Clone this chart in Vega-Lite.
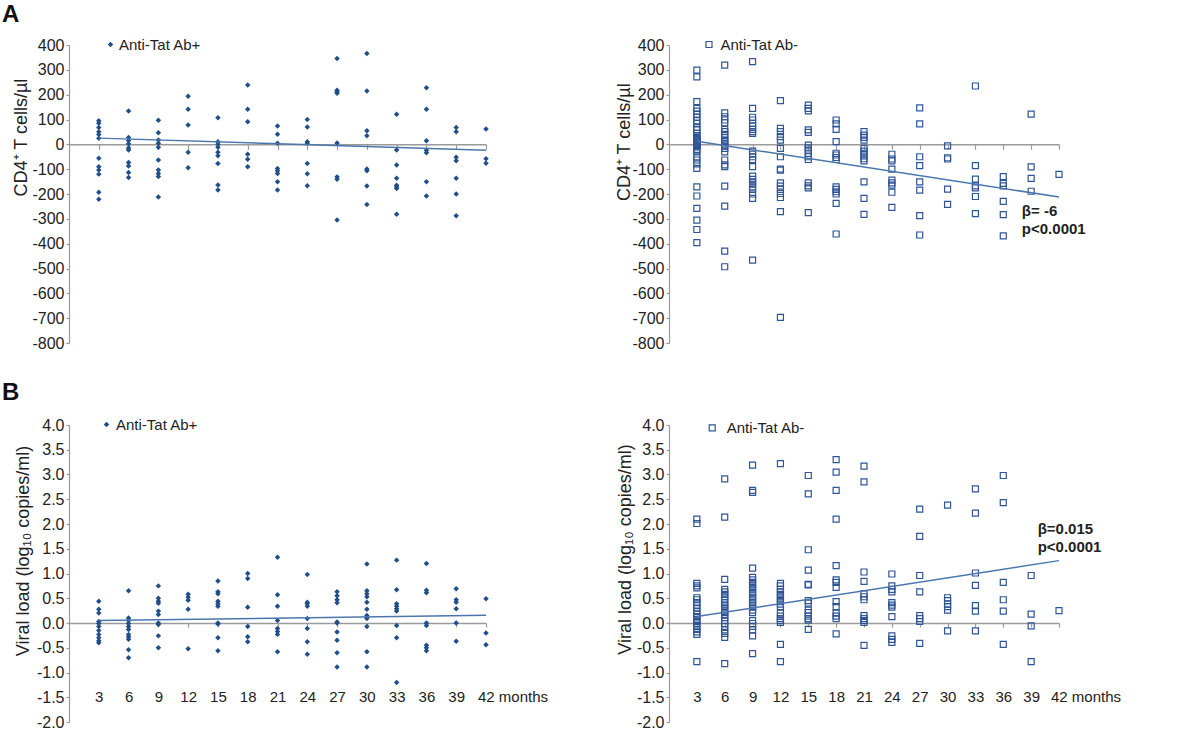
{
  "$schema": "https://vega.github.io/schema/vega-lite/v6.json",
  "padding": {"left": 2, "top": 2, "right": 5, "bottom": 5},
  "autosize": {"type": "pad"},
  "datasets": {
    "cd4pos": [
      {"m":3,"v":95},{"m":3,"v":85},{"m":3,"v":68},{"m":3,"v":51},{"m":3,"v":40},{"m":3,"v":24},{"m":3,"v":-56},{"m":3,"v":-90},{"m":3,"v":-103},{"m":3,"v":-120},{"m":3,"v":-193},{"m":3,"v":-221},
      {"m":6,"v":134},{"m":6,"v":28},{"m":6,"v":15},{"m":6,"v":2},{"m":6,"v":-15},{"m":6,"v":-23},{"m":6,"v":-73},{"m":6,"v":-87},{"m":6,"v":-113},{"m":6,"v":-134},
      {"m":9,"v":97},{"m":9,"v":47},{"m":9,"v":17},{"m":9,"v":4},{"m":9,"v":-12},{"m":9,"v":-63},{"m":9,"v":-103},{"m":9,"v":-117},{"m":9,"v":-130},{"m":9,"v":-212},
      {"m":12,"v":194},{"m":12,"v":141},{"m":12,"v":78},{"m":12,"v":-32},{"m":12,"v":-94},
      {"m":15,"v":107},{"m":15,"v":10},{"m":15,"v":0},{"m":15,"v":-12},{"m":15,"v":-32},{"m":15,"v":-46},{"m":15,"v":-77},{"m":15,"v":-164},{"m":15,"v":-184},
      {"m":18,"v":239},{"m":18,"v":141},{"m":18,"v":91},{"m":18,"v":-40},{"m":18,"v":-60},{"m":18,"v":-90},
      {"m":21,"v":74},{"m":21,"v":41},{"m":21,"v":4},{"m":21,"v":-97},{"m":21,"v":-106},{"m":21,"v":-117},{"m":21,"v":-151},{"m":21,"v":-184},
      {"m":24,"v":100},{"m":24,"v":70},{"m":24,"v":10},{"m":24,"v":4},{"m":24,"v":-77},{"m":24,"v":-118},{"m":24,"v":-167},
      {"m":27,"v":346},{"m":27,"v":218},{"m":27,"v":212},{"m":27,"v":206},{"m":27,"v":5},{"m":27,"v":-131},{"m":27,"v":-141},{"m":27,"v":-305},
      {"m":30,"v":366},{"m":30,"v":215},{"m":30,"v":55},{"m":30,"v":35},{"m":30,"v":-99},{"m":30,"v":-106},{"m":30,"v":-168},{"m":30,"v":-242},
      {"m":33,"v":121},{"m":33,"v":-23},{"m":33,"v":-83},{"m":33,"v":-137},{"m":33,"v":-165},{"m":33,"v":-172},{"m":33,"v":-178},{"m":33,"v":-282},
      {"m":36,"v":228},{"m":36,"v":141},{"m":36,"v":14},{"m":36,"v":-24},{"m":36,"v":-34},{"m":36,"v":-151},{"m":36,"v":-208},
      {"m":39,"v":68},{"m":39,"v":51},{"m":39,"v":-52},{"m":39,"v":-66},{"m":39,"v":-137},{"m":39,"v":-200},{"m":39,"v":-288},
      {"m":42,"v":62},{"m":42,"v":-58},{"m":42,"v":-76}
    ],
    "cd4neg": [
      {"m":3,"v":299},{"m":3,"v":272},{"m":3,"v":172},{"m":3,"v":145},{"m":3,"v":134},{"m":3,"v":122},{"m":3,"v":109},{"m":3,"v":95},{"m":3,"v":84},{"m":3,"v":68},{"m":3,"v":58},{"m":3,"v":44},{"m":3,"v":35},{"m":3,"v":28},{"m":3,"v":24},{"m":3,"v":17},{"m":3,"v":14},{"m":3,"v":11},{"m":3,"v":6},{"m":3,"v":4},{"m":3,"v":0},{"m":3,"v":-3},{"m":3,"v":-6},{"m":3,"v":-10},{"m":3,"v":-20},{"m":3,"v":-30},{"m":3,"v":-50},{"m":3,"v":-63},{"m":3,"v":-79},{"m":3,"v":-97},{"m":3,"v":-171},{"m":3,"v":-208},{"m":3,"v":-258},{"m":3,"v":-305},{"m":3,"v":-343},{"m":3,"v":-396},
      {"m":6,"v":319},{"m":6,"v":127},{"m":6,"v":111},{"m":6,"v":98},{"m":6,"v":87},{"m":6,"v":60},{"m":6,"v":51},{"m":6,"v":40},{"m":6,"v":28},{"m":6,"v":17},{"m":6,"v":11},{"m":6,"v":1},{"m":6,"v":-7},{"m":6,"v":-16},{"m":6,"v":-30},{"m":6,"v":-63},{"m":6,"v":-83},{"m":6,"v":-90},{"m":6,"v":-168},{"m":6,"v":-249},{"m":6,"v":-430},{"m":6,"v":-493},
      {"m":9,"v":333},{"m":9,"v":145},{"m":9,"v":109},{"m":9,"v":98},{"m":9,"v":84},{"m":9,"v":74},{"m":9,"v":60},{"m":9,"v":51},{"m":9,"v":44},{"m":9,"v":-27},{"m":9,"v":-40},{"m":9,"v":-50},{"m":9,"v":-61},{"m":9,"v":-90},{"m":9,"v":-128},{"m":9,"v":-141},{"m":9,"v":-151},{"m":9,"v":-160},{"m":9,"v":-171},{"m":9,"v":-181},{"m":9,"v":-200},{"m":9,"v":-218},{"m":9,"v":-466},
      {"m":12,"v":176},{"m":12,"v":64},{"m":12,"v":51},{"m":12,"v":31},{"m":12,"v":17},{"m":12,"v":-16},{"m":12,"v":-50},{"m":12,"v":-100},{"m":12,"v":-104},{"m":12,"v":-155},{"m":12,"v":-168},{"m":12,"v":-181},{"m":12,"v":-198},{"m":12,"v":-214},{"m":12,"v":-271},{"m":12,"v":-697},
      {"m":15,"v":158},{"m":15,"v":145},{"m":15,"v":135},{"m":15,"v":58},{"m":15,"v":48},{"m":15,"v":-3},{"m":15,"v":-14},{"m":15,"v":-23},{"m":15,"v":-36},{"m":15,"v":-50},{"m":15,"v":-61},{"m":15,"v":-155},{"m":15,"v":-167},{"m":15,"v":-175},{"m":15,"v":-275},
      {"m":18,"v":98},{"m":18,"v":82},{"m":18,"v":60},{"m":18,"v":11},{"m":18,"v":-36},{"m":18,"v":-43},{"m":18,"v":-53},{"m":18,"v":-61},{"m":18,"v":-171},{"m":18,"v":-181},{"m":18,"v":-191},{"m":18,"v":-200},{"m":18,"v":-238},{"m":18,"v":-361},
      {"m":21,"v":51},{"m":21,"v":37},{"m":21,"v":28},{"m":21,"v":17},{"m":21,"v":-16},{"m":21,"v":-27},{"m":21,"v":-36},{"m":21,"v":-47},{"m":21,"v":-58},{"m":21,"v":-67},{"m":21,"v":-151},{"m":21,"v":-218},{"m":21,"v":-282},
      {"m":24,"v":-40},{"m":24,"v":-59},{"m":24,"v":-67},{"m":24,"v":-100},{"m":24,"v":-144},{"m":24,"v":-155},{"m":24,"v":-164},{"m":24,"v":-193},{"m":24,"v":-254},
      {"m":27,"v":147},{"m":27,"v":82},{"m":27,"v":-50},{"m":27,"v":-86},{"m":27,"v":-151},{"m":27,"v":-184},{"m":27,"v":-287},{"m":27,"v":-365},
      {"m":30,"v":-6},{"m":30,"v":-54},{"m":30,"v":-59},{"m":30,"v":-180},{"m":30,"v":-242},
      {"m":33,"v":235},{"m":33,"v":-86},{"m":33,"v":-140},{"m":33,"v":-167},{"m":33,"v":-175},{"m":33,"v":-210},{"m":33,"v":-279},
      {"m":36,"v":-130},{"m":36,"v":-157},{"m":36,"v":-167},{"m":36,"v":-230},{"m":36,"v":-283},{"m":36,"v":-369},
      {"m":39,"v":122},{"m":39,"v":-91},{"m":39,"v":-137},{"m":39,"v":-189},
      {"m":42,"v":-121}
    ],
    "vlpos": [
      {"m":3,"v":0.44},{"m":3,"v":0.28},{"m":3,"v":0.2},{"m":3,"v":0.03},{"m":3,"v":-0.01},{"m":3,"v":-0.07},{"m":3,"v":-0.15},{"m":3,"v":-0.23},{"m":3,"v":-0.3},{"m":3,"v":-0.36},{"m":3,"v":-0.4},
      {"m":6,"v":0.65},{"m":6,"v":0.1},{"m":6,"v":0.05},{"m":6,"v":-0.01},{"m":6,"v":-0.07},{"m":6,"v":-0.13},{"m":6,"v":-0.23},{"m":6,"v":-0.28},{"m":6,"v":-0.33},{"m":6,"v":-0.54},{"m":6,"v":-0.7},
      {"m":9,"v":0.75},{"m":9,"v":0.5},{"m":9,"v":0.44},{"m":9,"v":0.4},{"m":9,"v":0.24},{"m":9,"v":0.17},{"m":9,"v":0.0},{"m":9,"v":-0.03},{"m":9,"v":-0.26},{"m":9,"v":-0.5},
      {"m":12,"v":0.58},{"m":12,"v":0.52},{"m":12,"v":0.46},{"m":12,"v":0.28},{"m":12,"v":-0.52},
      {"m":15,"v":0.85},{"m":15,"v":0.63},{"m":15,"v":0.59},{"m":15,"v":0.44},{"m":15,"v":0.39},{"m":15,"v":0.34},{"m":15,"v":0.0},{"m":15,"v":-0.02},{"m":15,"v":-0.3},{"m":15,"v":-0.56},
      {"m":18,"v":1.0},{"m":18,"v":0.9},{"m":18,"v":0.32},{"m":18,"v":-0.07},{"m":18,"v":-0.28},{"m":18,"v":-0.38},
      {"m":21,"v":1.33},{"m":21,"v":0.57},{"m":21,"v":0.34},{"m":21,"v":0.05},{"m":21,"v":-0.11},{"m":21,"v":-0.17},{"m":21,"v":-0.23},{"m":21,"v":-0.58},
      {"m":24,"v":0.98},{"m":24,"v":0.42},{"m":24,"v":0.39},{"m":24,"v":0.34},{"m":24,"v":0.09},{"m":24,"v":-0.11},{"m":24,"v":-0.38},{"m":24,"v":-0.63},
      {"m":27,"v":0.63},{"m":27,"v":0.55},{"m":27,"v":0.47},{"m":27,"v":0.41},{"m":27,"v":0.02},{"m":27,"v":0.0},{"m":27,"v":-0.18},{"m":27,"v":-0.35},{"m":27,"v":-0.6},{"m":27,"v":-0.89},
      {"m":30,"v":1.19},{"m":30,"v":0.65},{"m":30,"v":0.59},{"m":30,"v":0.53},{"m":30,"v":0.42},{"m":30,"v":0.28},{"m":30,"v":0.15},{"m":30,"v":0.12},{"m":30,"v":0.09},{"m":30,"v":-0.07},{"m":30,"v":-0.58},{"m":30,"v":-0.89},
      {"m":33,"v":1.27},{"m":33,"v":0.67},{"m":33,"v":0.39},{"m":33,"v":0.34},{"m":33,"v":0.29},{"m":33,"v":0.24},{"m":33,"v":-0.05},{"m":33,"v":-0.3},{"m":33,"v":-1.2},
      {"m":36,"v":1.2},{"m":36,"v":0.66},{"m":36,"v":0.61},{"m":36,"v":0.0},{"m":36,"v":-0.05},{"m":36,"v":-0.45},{"m":36,"v":-0.5},{"m":36,"v":-0.56},
      {"m":39,"v":0.69},{"m":39,"v":0.47},{"m":39,"v":0.42},{"m":39,"v":0.29},{"m":39,"v":0.0},{"m":39,"v":-0.37},
      {"m":42,"v":0.49},{"m":42,"v":-0.2},{"m":42,"v":-0.44}
    ],
    "vlneg": [
      {"m":3,"v":2.1},{"m":3,"v":2.01},{"m":3,"v":0.8},{"m":3,"v":0.75},{"m":3,"v":0.71},{"m":3,"v":0.51},{"m":3,"v":0.47},{"m":3,"v":0.41},{"m":3,"v":0.36},{"m":3,"v":0.3},{"m":3,"v":0.23},{"m":3,"v":0.18},{"m":3,"v":0.13},{"m":3,"v":0.07},{"m":3,"v":0.03},{"m":3,"v":-0.02},{"m":3,"v":-0.07},{"m":3,"v":-0.13},{"m":3,"v":-0.18},{"m":3,"v":-0.23},{"m":3,"v":-0.78},
      {"m":6,"v":2.91},{"m":6,"v":2.14},{"m":6,"v":0.88},{"m":6,"v":0.68},{"m":6,"v":0.63},{"m":6,"v":0.58},{"m":6,"v":0.53},{"m":6,"v":0.48},{"m":6,"v":0.41},{"m":6,"v":0.36},{"m":6,"v":0.32},{"m":6,"v":0.26},{"m":6,"v":0.21},{"m":6,"v":0.16},{"m":6,"v":0.11},{"m":6,"v":0.05},{"m":6,"v":-0.01},{"m":6,"v":-0.07},{"m":6,"v":-0.14},{"m":6,"v":-0.21},{"m":6,"v":-0.29},{"m":6,"v":-0.82},
      {"m":9,"v":3.19},{"m":9,"v":2.68},{"m":9,"v":2.64},{"m":9,"v":1.11},{"m":9,"v":0.92},{"m":9,"v":0.87},{"m":9,"v":0.82},{"m":9,"v":0.77},{"m":9,"v":0.72},{"m":9,"v":0.67},{"m":9,"v":0.62},{"m":9,"v":0.57},{"m":9,"v":0.51},{"m":9,"v":0.47},{"m":9,"v":0.41},{"m":9,"v":0.36},{"m":9,"v":0.32},{"m":9,"v":0.26},{"m":9,"v":0.21},{"m":9,"v":0.05},{"m":9,"v":-0.01},{"m":9,"v":-0.07},{"m":9,"v":-0.14},{"m":9,"v":-0.26},{"m":9,"v":-0.62},
      {"m":12,"v":3.22},{"m":12,"v":0.8},{"m":12,"v":0.75},{"m":12,"v":0.68},{"m":12,"v":0.63},{"m":12,"v":0.58},{"m":12,"v":0.53},{"m":12,"v":0.48},{"m":12,"v":0.43},{"m":12,"v":0.38},{"m":12,"v":0.33},{"m":12,"v":0.2},{"m":12,"v":0.14},{"m":12,"v":0.09},{"m":12,"v":0.05},{"m":12,"v":0.01},{"m":12,"v":-0.43},{"m":12,"v":-0.78},
      {"m":15,"v":2.98},{"m":15,"v":2.61},{"m":15,"v":1.48},{"m":15,"v":1.07},{"m":15,"v":0.78},{"m":15,"v":0.77},{"m":15,"v":0.45},{"m":15,"v":0.4},{"m":15,"v":0.26},{"m":15,"v":0.21},{"m":15,"v":0.14},{"m":15,"v":0.09},{"m":15,"v":0.06},{"m":15,"v":-0.13},
      {"m":18,"v":3.3},{"m":18,"v":3.05},{"m":18,"v":2.68},{"m":18,"v":2.1},{"m":18,"v":1.16},{"m":18,"v":0.87},{"m":18,"v":0.82},{"m":18,"v":0.72},{"m":18,"v":0.43},{"m":18,"v":0.33},{"m":18,"v":0.2},{"m":18,"v":0.14},{"m":18,"v":0.09},{"m":18,"v":-0.22},
      {"m":21,"v":3.17},{"m":21,"v":2.85},{"m":21,"v":1.03},{"m":21,"v":0.84},{"m":21,"v":0.59},{"m":21,"v":0.53},{"m":21,"v":0.47},{"m":21,"v":0.15},{"m":21,"v":0.09},{"m":21,"v":0.05},{"m":21,"v":0.01},{"m":21,"v":-0.45},
      {"m":24,"v":0.99},{"m":24,"v":0.75},{"m":24,"v":0.68},{"m":24,"v":0.63},{"m":24,"v":0.41},{"m":24,"v":0.36},{"m":24,"v":0.32},{"m":24,"v":0.13},{"m":24,"v":-0.26},{"m":24,"v":-0.33},{"m":24,"v":-0.39},
      {"m":27,"v":2.3},{"m":27,"v":1.75},{"m":27,"v":0.96},{"m":27,"v":0.63},{"m":27,"v":0.15},{"m":27,"v":0.09},{"m":27,"v":0.03},{"m":27,"v":-0.41},
      {"m":30,"v":2.38},{"m":30,"v":0.51},{"m":30,"v":0.45},{"m":30,"v":0.38},{"m":30,"v":0.33},{"m":30,"v":0.26},{"m":30,"v":-0.16},
      {"m":33,"v":2.71},{"m":33,"v":2.22},{"m":33,"v":1.01},{"m":33,"v":0.76},{"m":33,"v":0.35},{"m":33,"v":0.24},{"m":33,"v":-0.16},
      {"m":36,"v":2.98},{"m":36,"v":2.43},{"m":36,"v":0.82},{"m":36,"v":0.47},{"m":36,"v":0.24},{"m":36,"v":-0.43},
      {"m":39,"v":0.96},{"m":39,"v":0.18},{"m":39,"v":-0.06},{"m":39,"v":-0.78},
      {"m":42,"v":0.25}
    ]
  },
  "concat": [
    {
      "width": 417, "height": 298,
      "layer": [
        {
          "data": {"name": "cd4pos"},
          "mark": {"type": "point", "filled": true, "color": "#1F4E89", "size": 30, "opacity": 1},
          "encoding": {
            "x": {"field": "m", "type": "quantitative", "scale": {"domain": [0, 42], "nice": false, "zero": false},
              "axis": {"orient": "bottom", "offset": -198.67, "values": [3,6,9,12,15,18,21,24,27,30,33,36,39,42], "labels": false, "ticks": true, "tickSize": 5, "title": null, "domainWidth": 1.5}},
            "y": {"field": "v", "type": "quantitative", "scale": {"domain": [-800, 400], "nice": false, "zero": false},
              "axis": {"values": [-800,-700,-600,-500,-400,-300,-200,-100,0,100,200,300,400], "tickSize": 3, "labelPadding": 2, "labelFontSize": 16,
                "labelExpr": "(datum.value < 0 ? '-' : '') + format(abs(datum.value), 'd')",
                "title": "CD4⁺ T cells/µl", "titleFontSize": 18, "titleX": -47.5, "titleY": 92, "titleAngle": -90, "titleAlign": "center", "titleBaseline": "middle"}},
            "shape": {"datum": "Anti-Tat Ab+", "scale": {"range": ["diamond"]},
              "legend": {"orient": "none", "legendX": 34, "legendY": -8, "title": null, "padding": 0, "labelFontSize": 15, "labelOffset": 1, "symbolSize": 30, "symbolFillColor": "#1F4E89", "symbolStrokeColor": "#1F4E89", "symbolStrokeWidth": 0}}
          }
        },
        {
          "data": {"values": [{"m": 3, "v": 25}, {"m": 42, "v": -24}]},
          "mark": {"type": "line", "color": "#4C76AB", "strokeWidth": 1.5},
          "encoding": {
            "x": {"field": "m", "type": "quantitative", "scale": {"domain": [0, 42], "nice": false, "zero": false},
              "axis": {"orient": "bottom", "offset": -198.67, "values": [3,6,9,12,15,18,21,24,27,30,33,36,39,42], "labels": false, "ticks": true, "tickSize": 5, "title": null, "domainWidth": 1.5}},
            "y": {"field": "v", "type": "quantitative", "scale": {"domain": [-800, 400], "nice": false, "zero": false},
              "axis": {"values": [-800,-700,-600,-500,-400,-300,-200,-100,0,100,200,300,400], "tickSize": 3, "labelPadding": 2, "labelFontSize": 16,
                "labelExpr": "(datum.value < 0 ? '-' : '') + format(abs(datum.value), 'd')",
                "title": "CD4⁺ T cells/µl", "titleFontSize": 18, "titleX": -47.5, "titleY": 92, "titleAngle": -90, "titleAlign": "center", "titleBaseline": "middle"}}
          }
        },
        {
          "data": {"values": [{}]},
          "mark": {"type": "text", "text": "A", "fontSize": 24, "fontWeight": "bold", "align": "left", "baseline": "alphabetic", "dx": -67, "dy": -23.5, "color": "#111"},
          "encoding": {
            "x": {"datum": 0, "type": "quantitative", "scale": {"domain": [0, 42], "nice": false, "zero": false},
              "axis": {"orient": "bottom", "offset": -198.67, "values": [3,6,9,12,15,18,21,24,27,30,33,36,39,42], "labels": false, "ticks": true, "tickSize": 5, "title": null, "domainWidth": 1.5}},
            "y": {"datum": 400, "type": "quantitative", "scale": {"domain": [-800, 400], "nice": false, "zero": false},
              "axis": {"values": [-800,-700,-600,-500,-400,-300,-200,-100,0,100,200,300,400], "tickSize": 3, "labelPadding": 2, "labelFontSize": 16,
                "labelExpr": "(datum.value < 0 ? '-' : '') + format(abs(datum.value), 'd')",
                "title": "CD4⁺ T cells/µl", "titleFontSize": 18, "titleX": -47.5, "titleY": 92, "titleAngle": -90, "titleAlign": "center", "titleBaseline": "middle"}}
          }
        }
      ]
    },
    {
      "width": 390, "height": 298,
      "layer": [
        {
          "data": {"name": "cd4neg"},
          "mark": {"type": "point", "filled": false, "color": "#2F5597", "size": 36, "strokeWidth": 1.2, "opacity": 1},
          "encoding": {
            "x": {"field": "m", "type": "quantitative", "scale": {"domain": [0, 42], "nice": false, "zero": false},
              "axis": {"orient": "bottom", "offset": -198.67, "values": [3,6,9,12,15,18,21,24,27,30,33,36,39,42], "labels": false, "ticks": true, "tickSize": 5, "title": null, "domainWidth": 1.5}},
            "y": {"field": "v", "type": "quantitative", "scale": {"domain": [-800, 400], "nice": false, "zero": false},
              "axis": {"values": [-800,-700,-600,-500,-400,-300,-200,-100,0,100,200,300,400], "tickSize": 3, "labelPadding": 2, "labelFontSize": 16,
                "labelExpr": "(datum.value < 0 ? '-' : '') + format(abs(datum.value), 'd')",
                "title": "CD4⁺ T cells/µl", "titleFontSize": 18, "titleX": -45, "titleY": 96.7, "titleAngle": -90, "titleAlign": "center", "titleBaseline": "middle"}},
            "shape": {"datum": "Anti-Tat Ab-", "scale": {"range": ["square"]},
              "legend": {"orient": "none", "legendX": 32.5, "legendY": -8, "title": null, "padding": 0, "labelFontSize": 15, "labelOffset": 4, "symbolSize": 36, "symbolFillColor": "transparent", "symbolStrokeColor": "#2F5597", "symbolStrokeWidth": 1.2}}
          }
        },
        {
          "data": {"values": [{"m": 3, "v": 12}, {"m": 42, "v": -212}]},
          "mark": {"type": "line", "color": "#4C76AB", "strokeWidth": 1.5},
          "encoding": {
            "x": {"field": "m", "type": "quantitative", "scale": {"domain": [0, 42], "nice": false, "zero": false},
              "axis": {"orient": "bottom", "offset": -198.67, "values": [3,6,9,12,15,18,21,24,27,30,33,36,39,42], "labels": false, "ticks": true, "tickSize": 5, "title": null, "domainWidth": 1.5}},
            "y": {"field": "v", "type": "quantitative", "scale": {"domain": [-800, 400], "nice": false, "zero": false},
              "axis": {"values": [-800,-700,-600,-500,-400,-300,-200,-100,0,100,200,300,400], "tickSize": 3, "labelPadding": 2, "labelFontSize": 16,
                "labelExpr": "(datum.value < 0 ? '-' : '') + format(abs(datum.value), 'd')",
                "title": "CD4⁺ T cells/µl", "titleFontSize": 18, "titleX": -45, "titleY": 96.7, "titleAngle": -90, "titleAlign": "center", "titleBaseline": "middle"}}
          }
        },
        {
          "data": {"values": [{}]},
          "mark": {"type": "text", "text": ["β= -6", "p<0.0001"], "fontSize": 15, "fontWeight": "bold", "align": "left", "baseline": "alphabetic", "lineHeight": 18, "color": "#222"},
          "encoding": {
            "x": {"datum": 38, "type": "quantitative", "scale": {"domain": [0, 42], "nice": false, "zero": false},
              "axis": {"orient": "bottom", "offset": -198.67, "values": [3,6,9,12,15,18,21,24,27,30,33,36,39,42], "labels": false, "ticks": true, "tickSize": 5, "title": null, "domainWidth": 1.5}},
            "y": {"datum": -289, "type": "quantitative", "scale": {"domain": [-800, 400], "nice": false, "zero": false},
              "axis": {"values": [-800,-700,-600,-500,-400,-300,-200,-100,0,100,200,300,400], "tickSize": 3, "labelPadding": 2, "labelFontSize": 16,
                "labelExpr": "(datum.value < 0 ? '-' : '') + format(abs(datum.value), 'd')",
                "title": "CD4⁺ T cells/µl", "titleFontSize": 18, "titleX": -45, "titleY": 96.7, "titleAngle": -90, "titleAlign": "center", "titleBaseline": "middle"}}
          }
        }
      ]
    },
    {
      "width": 417, "height": 297,
      "layer": [
        {
          "data": {"name": "vlpos"},
          "mark": {"type": "point", "filled": true, "color": "#1F4E89", "size": 30, "opacity": 1},
          "encoding": {
            "x": {"field": "m", "type": "quantitative", "scale": {"domain": [0, 42], "nice": false, "zero": false},
              "axis": {"orient": "bottom", "offset": -99, "values": [3,6,9,12,15,18,21,24,27,30,33,36,39,42], "ticks": true, "tickSize": 4, "title": null, "domainWidth": 1.5,
                "labelPadding": 69, "labelBaseline": "middle", "labelFontSize": 15,
                "labelExpr": "datum.value == 42 ? '42 months' : datum.label",
                "labelAlign": {"condition": {"test": "datum.value == 42", "value": "left"}, "value": "center"},
                "labelOffset": {"condition": {"test": "datum.value == 42", "value": -8.5}, "value": 0}}},
            "y": {"field": "v", "type": "quantitative", "scale": {"domain": [-2, 4], "nice": false, "zero": false},
              "axis": {"values": [-2,-1.5,-1,-0.5,0,0.5,1,1.5,2,2.5,3,3.5,4], "tickSize": 3, "labelPadding": 2, "labelFontSize": 16,
                "labelExpr": "(datum.value < 0 ? '-' : '') + format(abs(datum.value), '.1f')",
                "title": "Viral load (log₁₀ copies/ml)", "titleFontSize": 18, "titleX": -46, "titleY": 125.5, "titleAngle": -90, "titleAlign": "center", "titleBaseline": "middle"}},
            "shape": {"datum": "Anti-Tat Ab+", "scale": {"range": ["diamond"]},
              "legend": {"orient": "none", "legendX": 30, "legendY": -8, "title": null, "padding": 0, "labelFontSize": 15, "labelOffset": 2, "symbolSize": 30, "symbolFillColor": "#1F4E89", "symbolStrokeColor": "#1F4E89", "symbolStrokeWidth": 0}}
          }
        },
        {
          "data": {"values": [{"m": 3, "v": 0.05}, {"m": 42, "v": 0.155}]},
          "mark": {"type": "line", "color": "#4C76AB", "strokeWidth": 1.5},
          "encoding": {
            "x": {"field": "m", "type": "quantitative", "scale": {"domain": [0, 42], "nice": false, "zero": false},
              "axis": {"orient": "bottom", "offset": -99, "values": [3,6,9,12,15,18,21,24,27,30,33,36,39,42], "ticks": true, "tickSize": 4, "title": null, "domainWidth": 1.5,
                "labelPadding": 69, "labelBaseline": "middle", "labelFontSize": 15,
                "labelExpr": "datum.value == 42 ? '42 months' : datum.label",
                "labelAlign": {"condition": {"test": "datum.value == 42", "value": "left"}, "value": "center"},
                "labelOffset": {"condition": {"test": "datum.value == 42", "value": -8.5}, "value": 0}}},
            "y": {"field": "v", "type": "quantitative", "scale": {"domain": [-2, 4], "nice": false, "zero": false},
              "axis": {"values": [-2,-1.5,-1,-0.5,0,0.5,1,1.5,2,2.5,3,3.5,4], "tickSize": 3, "labelPadding": 2, "labelFontSize": 16,
                "labelExpr": "(datum.value < 0 ? '-' : '') + format(abs(datum.value), '.1f')",
                "title": "Viral load (log₁₀ copies/ml)", "titleFontSize": 18, "titleX": -46, "titleY": 125.5, "titleAngle": -90, "titleAlign": "center", "titleBaseline": "middle"}}
          }
        },
        {
          "data": {"values": [{}]},
          "mark": {"type": "text", "text": "B", "fontSize": 24, "fontWeight": "bold", "align": "left", "baseline": "alphabetic", "dx": -67, "dy": -25, "color": "#111"},
          "encoding": {
            "x": {"datum": 0, "type": "quantitative", "scale": {"domain": [0, 42], "nice": false, "zero": false},
              "axis": {"orient": "bottom", "offset": -99, "values": [3,6,9,12,15,18,21,24,27,30,33,36,39,42], "ticks": true, "tickSize": 4, "title": null, "domainWidth": 1.5,
                "labelPadding": 69, "labelBaseline": "middle", "labelFontSize": 15,
                "labelExpr": "datum.value == 42 ? '42 months' : datum.label",
                "labelAlign": {"condition": {"test": "datum.value == 42", "value": "left"}, "value": "center"},
                "labelOffset": {"condition": {"test": "datum.value == 42", "value": -8.5}, "value": 0}}},
            "y": {"datum": 4, "type": "quantitative", "scale": {"domain": [-2, 4], "nice": false, "zero": false},
              "axis": {"values": [-2,-1.5,-1,-0.5,0,0.5,1,1.5,2,2.5,3,3.5,4], "tickSize": 3, "labelPadding": 2, "labelFontSize": 16,
                "labelExpr": "(datum.value < 0 ? '-' : '') + format(abs(datum.value), '.1f')",
                "title": "Viral load (log₁₀ copies/ml)", "titleFontSize": 18, "titleX": -46, "titleY": 125.5, "titleAngle": -90, "titleAlign": "center", "titleBaseline": "middle"}}
          }
        }
      ]
    },
    {
      "width": 390, "height": 297,
      "layer": [
        {
          "data": {"name": "vlneg"},
          "mark": {"type": "point", "filled": false, "color": "#2F5597", "size": 36, "strokeWidth": 1.2, "opacity": 1},
          "encoding": {
            "x": {"field": "m", "type": "quantitative", "scale": {"domain": [0, 42], "nice": false, "zero": false},
              "axis": {"orient": "bottom", "offset": -99, "values": [3,6,9,12,15,18,21,24,27,30,33,36,39,42], "ticks": true, "tickSize": 4, "title": null, "domainWidth": 1.5,
                "labelPadding": 69, "labelBaseline": "middle", "labelFontSize": 15,
                "labelExpr": "datum.value == 42 ? '42 months' : datum.label",
                "labelAlign": {"condition": {"test": "datum.value == 42", "value": "left"}, "value": "center"},
                "labelOffset": {"condition": {"test": "datum.value == 42", "value": -8.5}, "value": 0}}},
            "y": {"field": "v", "type": "quantitative", "scale": {"domain": [-2, 4], "nice": false, "zero": false},
              "axis": {"values": [-2,-1.5,-1,-0.5,0,0.5,1,1.5,2,2.5,3,3.5,4], "tickSize": 3, "labelPadding": 2, "labelFontSize": 16,
                "labelExpr": "(datum.value < 0 ? '-' : '') + format(abs(datum.value), '.1f')",
                "title": "Viral load (log₁₀ copies/ml)", "titleFontSize": 18, "titleX": -43.5, "titleY": 124, "titleAngle": -90, "titleAlign": "center", "titleBaseline": "middle"}},
            "shape": {"datum": "Anti-Tat Ab-", "scale": {"range": ["square"]},
              "legend": {"orient": "none", "legendX": 35.7, "legendY": -4.7, "title": null, "padding": 0, "labelFontSize": 15, "labelOffset": 7, "symbolSize": 36, "symbolFillColor": "transparent", "symbolStrokeColor": "#2F5597", "symbolStrokeWidth": 1.2}}
          }
        },
        {
          "data": {"values": [{"m": 3, "v": 0.13}, {"m": 42, "v": 1.26}]},
          "mark": {"type": "line", "color": "#4C76AB", "strokeWidth": 1.5},
          "encoding": {
            "x": {"field": "m", "type": "quantitative", "scale": {"domain": [0, 42], "nice": false, "zero": false},
              "axis": {"orient": "bottom", "offset": -99, "values": [3,6,9,12,15,18,21,24,27,30,33,36,39,42], "ticks": true, "tickSize": 4, "title": null, "domainWidth": 1.5,
                "labelPadding": 69, "labelBaseline": "middle", "labelFontSize": 15,
                "labelExpr": "datum.value == 42 ? '42 months' : datum.label",
                "labelAlign": {"condition": {"test": "datum.value == 42", "value": "left"}, "value": "center"},
                "labelOffset": {"condition": {"test": "datum.value == 42", "value": -8.5}, "value": 0}}},
            "y": {"field": "v", "type": "quantitative", "scale": {"domain": [-2, 4], "nice": false, "zero": false},
              "axis": {"values": [-2,-1.5,-1,-0.5,0,0.5,1,1.5,2,2.5,3,3.5,4], "tickSize": 3, "labelPadding": 2, "labelFontSize": 16,
                "labelExpr": "(datum.value < 0 ? '-' : '') + format(abs(datum.value), '.1f')",
                "title": "Viral load (log₁₀ copies/ml)", "titleFontSize": 18, "titleX": -43.5, "titleY": 124, "titleAngle": -90, "titleAlign": "center", "titleBaseline": "middle"}}
          }
        },
        {
          "data": {"values": [{}]},
          "mark": {"type": "text", "text": ["β=0.015", "p<0.0001"], "fontSize": 15, "fontWeight": "bold", "align": "left", "baseline": "alphabetic", "lineHeight": 18, "color": "#222"},
          "encoding": {
            "x": {"datum": 39.7, "type": "quantitative", "scale": {"domain": [0, 42], "nice": false, "zero": false},
              "axis": {"orient": "bottom", "offset": -99, "values": [3,6,9,12,15,18,21,24,27,30,33,36,39,42], "ticks": true, "tickSize": 4, "title": null, "domainWidth": 1.5,
                "labelPadding": 69, "labelBaseline": "middle", "labelFontSize": 15,
                "labelExpr": "datum.value == 42 ? '42 months' : datum.label",
                "labelAlign": {"condition": {"test": "datum.value == 42", "value": "left"}, "value": "center"},
                "labelOffset": {"condition": {"test": "datum.value == 42", "value": -8.5}, "value": 0}}},
            "y": {"datum": 1.8, "type": "quantitative", "scale": {"domain": [-2, 4], "nice": false, "zero": false},
              "axis": {"values": [-2,-1.5,-1,-0.5,0,0.5,1,1.5,2,2.5,3,3.5,4], "tickSize": 3, "labelPadding": 2, "labelFontSize": 16,
                "labelExpr": "(datum.value < 0 ? '-' : '') + format(abs(datum.value), '.1f')",
                "title": "Viral load (log₁₀ copies/ml)", "titleFontSize": 18, "titleX": -43.5, "titleY": 124, "titleAngle": -90, "titleAlign": "center", "titleBaseline": "middle"}}
          }
        }
      ]
    }
  ],
  "columns": 2,
  "spacing": {"row": 82, "column": 183},
  "bounds": "flush",
  "resolve": {"scale": {"x": "independent", "y": "independent", "shape": "independent"}, "legend": {"shape": "independent"}},
  "config": {
    "view": {"stroke": null},
    "font": "Liberation Sans",
    "axis": {"grid": false, "domainColor": "#9A9A9A", "tickColor": "#9A9A9A", "domainWidth": 1.2, "tickWidth": 1.2, "labelColor": "#222222", "titleColor": "#222222", "labelFont": "Liberation Sans", "titleFont": "Liberation Sans", "titleFontWeight": "normal", "labelFlush": false, "labelOverlap": false, "labelBound": false},
    "legend": {"labelFont": "Liberation Sans", "labelFontSize": 15, "labelColor": "#222222"},
    "text": {"font": "Liberation Sans"}
  }
}
